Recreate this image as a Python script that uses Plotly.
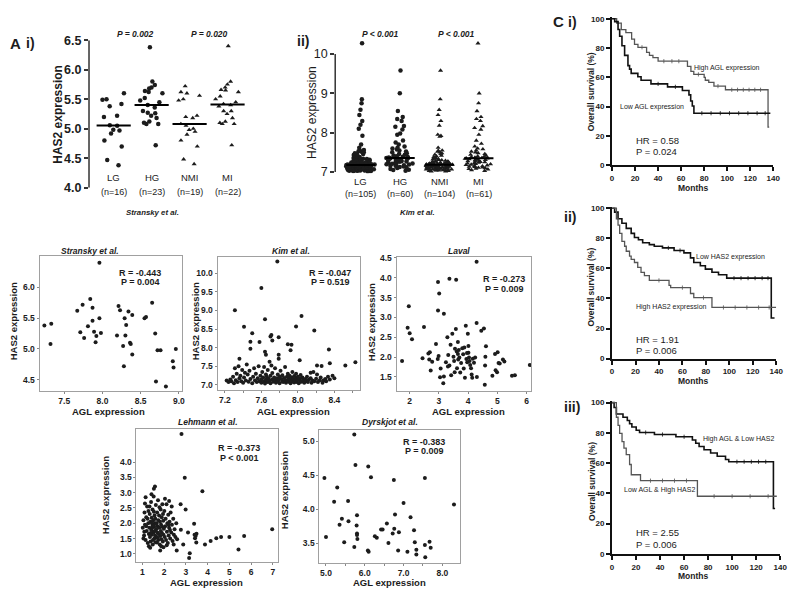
import plotly.graph_objects as go
import numpy as np

W, H = 800, 599
FONT = "Liberation Sans, Arial, Helvetica, sans-serif"
INK = "#1c1c1c"

# ======================= DATA =======================
groups = ["LG", "HG", "NMI", "MI"]
stransky_counts = ["(n=16)", "(n=23)", "(n=19)", "(n=22)"]
kim_counts = ["(n=105)", "(n=60)", "(n=104)", "(n=61)"]
stransky_pvals = ["P = 0.002", "P = 0.020"]
kim_pvals = ["P < 0.001", "P < 0.001"]

stransky_LG = [5.60, 5.50, 5.49, 5.42, 5.38, 5.22, 5.20, 5.06, 5.05, 4.98, 4.97, 4.92, 4.80, 4.70, 4.47, 4.38]
stransky_HG = [6.38, 5.80, 5.74, 5.70, 5.68, 5.64, 5.62, 5.60, 5.52, 5.48, 5.45, 5.40, 5.36, 5.30, 5.27,
               5.26, 5.22, 5.18, 5.12, 5.10, 5.08, 5.08, 4.72]
stransky_NMI = [5.72, 5.62, 5.60, 5.56, 5.50, 5.48, 5.22, 5.20, 5.18, 5.08, 5.05, 5.00, 4.98, 4.95, 4.90,
                4.80, 4.70, 4.48, 4.40]
stransky_MI = [6.40, 5.80, 5.75, 5.70, 5.66, 5.65, 5.62, 5.55, 5.50, 5.45, 5.42, 5.40, 5.38, 5.30, 5.30,
               5.25, 5.18, 5.12, 5.10, 5.08, 5.08, 4.72]

kim_LG = [10.27, 8.85, 8.75, 8.58, 8.45, 8.30, 8.20, 8.10, 7.92, 7.70, 7.62, 7.56, 7.55, 7.53, 7.52, 7.50,
          7.50, 7.48, 7.46, 7.45, 7.43, 7.42, 7.40, 7.39, 7.38, 7.36, 7.35, 7.34, 7.33, 7.32, 7.31, 7.30,
          7.29, 7.28, 7.28, 7.27, 7.26, 7.25, 7.25, 7.24, 7.23, 7.23, 7.22, 7.22, 7.21, 7.21, 7.20, 7.20,
          7.20, 7.19, 7.19, 7.19, 7.18, 7.18, 7.18, 7.17, 7.17, 7.17, 7.16, 7.16, 7.16, 7.15, 7.15, 7.15,
          7.14, 7.14, 7.14, 7.13, 7.13, 7.13, 7.12, 7.12, 7.12, 7.11, 7.11, 7.11, 7.10, 7.10, 7.10, 7.10,
          7.09, 7.09, 7.09, 7.08, 7.08, 7.08, 7.08, 7.07, 7.07, 7.07, 7.06, 7.06, 7.06, 7.05, 7.05, 7.05,
          7.04, 7.04, 7.04, 7.03, 7.03, 7.03, 7.02, 7.02, 7.01]
kim_HG = [9.58, 9.00, 8.55, 8.40, 8.35, 8.30, 8.17, 8.15, 8.08, 7.98, 7.95, 7.80, 7.75, 7.70, 7.65, 7.62,
          7.60, 7.57, 7.55, 7.52, 7.50, 7.48, 7.46, 7.44, 7.42, 7.40, 7.39, 7.38, 7.37, 7.36, 7.36, 7.35,
          7.34, 7.33, 7.32, 7.31, 7.30, 7.29, 7.28, 7.27, 7.26, 7.25, 7.24, 7.23, 7.22, 7.21, 7.20, 7.19,
          7.18, 7.17, 7.16, 7.15, 7.14, 7.13, 7.12, 7.10, 7.08, 7.06, 7.05, 7.03]
kim_NMI = [9.58, 8.85, 8.58, 8.45, 8.30, 8.18, 7.95, 7.92, 7.90, 7.62, 7.55, 7.54, 7.52, 7.50, 7.48, 7.46,
           7.44, 7.42, 7.40, 7.38, 7.36, 7.35, 7.34, 7.33, 7.32, 7.31, 7.30, 7.29, 7.28, 7.27, 7.26, 7.26,
           7.25, 7.25, 7.24, 7.24, 7.23, 7.23, 7.22, 7.22, 7.21, 7.21, 7.21, 7.20, 7.20, 7.20, 7.20, 7.19,
           7.19, 7.19, 7.19, 7.19, 7.18, 7.18, 7.18, 7.17, 7.17, 7.17, 7.16, 7.16, 7.16, 7.15, 7.15, 7.15,
           7.15, 7.14, 7.14, 7.14, 7.13, 7.13, 7.13, 7.12, 7.12, 7.12, 7.12, 7.11, 7.11, 7.11, 7.10, 7.10,
           7.10, 7.10, 7.09, 7.09, 7.09, 7.08, 7.08, 7.08, 7.07, 7.07, 7.07, 7.06, 7.06, 7.06, 7.05, 7.05,
           7.05, 7.04, 7.04, 7.04, 7.03, 7.03, 7.02, 7.02]
kim_MI = [10.27, 9.00, 8.75, 8.55, 8.40, 8.35, 8.30, 8.17, 8.12, 8.08, 7.95, 7.80, 7.72, 7.65, 7.60, 7.58,
          7.55, 7.52, 7.50, 7.48, 7.46, 7.44, 7.42, 7.40, 7.39, 7.38, 7.37, 7.36, 7.36, 7.35, 7.35, 7.34,
          7.33, 7.32, 7.31, 7.30, 7.29, 7.28, 7.27, 7.26, 7.25, 7.24, 7.23, 7.22, 7.21, 7.20, 7.19, 7.18,
          7.17, 7.16, 7.15, 7.14, 7.13, 7.12, 7.11, 7.10, 7.09, 7.08, 7.07, 7.05, 7.03]

# scatter panels: (AGL expression, HAS2 expression)
stransky_points = [
    (7.24, 5.38), (7.33, 5.41), (7.32, 5.08), (7.67, 5.62), (7.74, 5.72), (7.71, 5.27), (7.76, 5.18),
    (7.81, 5.37), (7.84, 5.81), (7.87, 5.67), (7.87, 5.46), (7.89, 5.28), (7.92, 5.21), (7.91, 5.11),
    (7.96, 5.50), (7.98, 5.26), (7.96, 6.40), (8.19, 5.22), (8.21, 5.70), (8.23, 5.63), (8.29, 5.50),
    (8.34, 5.61), (8.39, 5.55), (8.31, 5.39), (8.30, 5.22), (8.27, 5.05), (8.36, 5.10), (8.37, 5.08),
    (8.39, 4.91), (8.28, 4.72), (8.55, 5.50), (8.57, 5.52), (8.65, 5.75), (8.69, 5.25), (8.72, 4.98),
    (8.76, 4.98), (8.70, 4.47), (8.83, 4.39), (8.92, 4.80), (8.93, 4.70), (8.96, 5.00)]
kim_points = [
    (7.775, 10.31), (7.60, 9.60), (7.31, 9.00), (7.64, 8.76), (8.04, 8.85), (7.98, 8.57), (7.41, 8.56),
    (7.50, 8.39), (8.18, 8.46), (7.70, 8.30), (7.71, 8.34), (7.79, 8.28), (7.48, 8.16), (7.58, 8.15),
    (7.72, 8.19), (7.89, 8.09), (7.93, 8.08), (7.48, 7.97), (7.92, 7.93), (7.64, 7.89), (7.65, 7.81),
    (7.79, 7.81), (7.79, 7.70), (7.36, 7.70), (7.69, 7.62), (8.02, 7.66), (8.34, 7.95), (8.35, 7.58),
    (8.52, 7.52), (8.63, 7.61), (8.21, 7.52), (8.26, 7.51), (8.14, 7.33),
    (7.22, 7.12), (7.24, 7.08), (7.26, 7.15), (7.27, 7.10), (7.29, 7.22), (7.30, 7.05), (7.31, 7.45),
    (7.32, 7.13), (7.33, 7.30), (7.34, 7.08), (7.35, 7.50), (7.36, 7.18), (7.37, 7.25), (7.38, 7.10),
    (7.39, 7.40), (7.40, 7.06), (7.41, 7.20), (7.42, 7.33), (7.43, 7.12), (7.44, 7.55), (7.45, 7.28),
    (7.46, 7.09), (7.47, 7.38), (7.48, 7.16),
    (7.50, 7.05), (7.51, 7.22), (7.52, 7.45), (7.53, 7.12), (7.54, 7.30), (7.55, 7.08), (7.56, 7.18),
    (7.57, 7.50), (7.58, 7.10), (7.59, 7.25), (7.60, 7.06), (7.60, 7.15), (7.61, 7.35), (7.62, 7.20),
    (7.63, 7.10), (7.63, 7.48), (7.64, 7.04), (7.65, 7.28), (7.65, 7.14), (7.66, 7.22), (7.67, 7.08),
    (7.67, 7.40), (7.68, 7.17), (7.69, 7.12), (7.70, 7.25), (7.70, 7.05), (7.71, 7.52), (7.72, 7.15),
    (7.72, 7.32), (7.73, 7.09), (7.74, 7.20), (7.75, 7.12), (7.75, 7.45), (7.76, 7.06), (7.77, 7.18),
    (7.78, 7.28), (7.78, 7.10),
    (7.79, 7.14), (7.80, 7.22), (7.80, 7.05), (7.81, 7.38), (7.82, 7.16), (7.83, 7.10), (7.83, 7.26),
    (7.84, 7.08), (7.85, 7.19), (7.86, 7.13), (7.86, 7.48), (7.87, 7.06), (7.88, 7.22), (7.88, 7.12),
    (7.89, 7.30), (7.90, 7.09), (7.90, 7.17), (7.91, 7.25), (7.92, 7.05), (7.92, 7.14), (7.93, 7.20),
    (7.94, 7.10), (7.94, 7.35), (7.95, 7.16), (7.96, 7.07), (7.96, 7.24), (7.97, 7.12), (7.98, 7.18),
    (7.98, 7.30), (7.99, 7.08), (8.00, 7.14), (8.00, 7.22), (8.01, 7.05), (8.02, 7.17), (8.03, 7.11),
    (8.03, 7.27), (8.04, 7.09), (8.05, 7.20), (8.06, 7.13), (8.07, 7.06), (8.08, 7.16), (8.09, 7.10),
    (8.10, 7.22),
    (8.11, 7.08), (8.12, 7.14), (8.14, 7.18), (8.15, 7.06), (8.16, 7.12), (8.17, 7.35), (8.18, 7.10),
    (8.20, 7.17), (8.21, 7.28), (8.22, 7.08), (8.24, 7.13), (8.25, 7.20), (8.27, 7.06), (8.28, 7.12),
    (8.30, 7.16), (8.31, 7.10), (8.33, 7.22), (8.35, 7.15), (8.38, 7.25), (8.40, 7.18)]
laval_points = [
    (1.74, 1.90), (1.97, 3.28), (1.93, 2.74), (2.00, 2.60), (2.08, 2.45), (2.44, 1.97), (2.49, 2.76),
    (2.64, 2.09), (2.67, 1.94), (2.77, 1.88), (2.72, 1.66), (2.97, 3.89), (3.01, 3.60), (2.97, 3.17),
    (3.17, 3.09), (3.36, 3.97), (3.59, 3.95), (4.29, 4.40), (2.99, 2.03), (2.96, 1.95), (2.90, 2.33),
    (3.06, 1.71), (3.04, 1.49), (3.17, 1.51), (3.15, 1.34), (3.24, 1.87), (3.29, 2.50), (3.32, 2.05),
    (3.36, 1.79), (3.40, 2.31), (3.42, 1.54), (3.46, 2.59), (3.50, 2.01), (3.52, 1.90), (3.55, 2.21),
    (3.58, 2.71), (3.61, 2.14), (3.62, 1.72), (3.65, 2.08), (3.68, 2.18), (3.70, 1.99), (3.73, 1.61),
    (3.76, 1.85), (3.80, 2.22), (3.83, 2.07), (3.85, 1.71), (3.87, 2.24), (3.89, 1.48), (3.92, 2.79),
    (3.94, 1.95), (3.97, 1.87), (3.99, 2.59), (4.01, 2.11), (4.03, 1.99), (4.05, 1.90), (4.07, 1.80),
    (4.10, 1.72), (4.12, 1.56), (4.14, 1.48), (4.16, 1.96), (4.20, 1.86), (4.24, 1.99), (4.29, 2.86),
    (4.30, 1.50), (4.45, 2.66), (4.54, 2.72), (4.61, 2.27), (4.59, 2.01), (4.58, 1.79), (4.57, 1.30),
    (4.83, 1.53), (4.92, 2.08), (5.01, 2.12), (4.94, 1.67), (4.99, 1.62), (5.04, 1.85), (5.08, 1.84),
    (5.19, 1.94), (5.24, 1.89), (5.50, 1.53), (5.60, 1.54), (6.11, 1.80), (2.69, 2.12), (3.31, 1.76),
    (3.54, 1.62), (3.66, 1.94), (3.96, 2.10), (4.01, 2.28), (3.65, 2.38)]
lehmann_points = [
    (2.80, 4.92), (2.95, 3.49), (3.76, 3.05), (1.58, 3.20), (1.53, 3.13), (2.23, 2.73), (2.76, 2.62),
    (2.99, 2.45), (3.38, 1.98), (2.77, 1.79), (3.10, 1.70), (3.49, 1.66), (3.42, 1.51), (3.45, 1.58),
    (3.40, 1.62), (4.40, 1.51), (4.62, 1.55), (5.00, 1.55), (5.68, 1.58), (6.97, 1.80), (5.42, 1.14),
    (4.14, 1.42), (3.88, 1.30), (2.88, 1.30), (2.58, 1.11), (3.18, 1.02), (3.15, 0.86), (3.48, 1.37),
    (1.67, 1.37), (1.97, 1.21), (1.82, 1.11),
    (1.02, 1.85), (1.05, 2.10), (1.08, 1.60), (1.10, 2.35), (1.12, 1.95), (1.15, 1.45), (1.18, 2.20),
    (1.20, 1.75), (1.22, 2.55), (1.25, 1.35), (1.27, 2.00), (1.30, 1.65), (1.05, 1.50), (1.12, 2.65),
    (1.18, 1.90), (1.28, 2.40), (1.09, 1.72), (1.24, 2.15), (1.15, 2.85), (1.30, 1.25),
    (1.32, 1.85), (1.34, 2.30), (1.35, 1.55), (1.37, 2.05), (1.38, 1.40), (1.40, 2.70), (1.41, 1.78),
    (1.43, 2.18), (1.44, 1.62), (1.46, 1.95), (1.47, 2.45), (1.48, 1.30), (1.50, 2.10), (1.51, 1.70),
    (1.52, 2.88), (1.54, 1.88), (1.55, 1.50), (1.56, 2.25), (1.58, 2.00), (1.59, 1.60), (1.33, 2.55),
    (1.36, 1.20), (1.42, 2.95), (1.45, 1.85), (1.49, 1.45), (1.53, 2.38), (1.57, 1.75), (1.39, 1.68),
    (1.44, 2.02), (1.52, 1.92),
    (1.60, 2.15), (1.61, 1.38), (1.62, 2.60), (1.64, 1.80), (1.65, 2.00), (1.66, 1.55), (1.68, 2.35),
    (1.69, 1.70), (1.70, 1.90), (1.72, 2.75), (1.73, 1.45), (1.74, 2.10), (1.76, 1.65), (1.77, 2.25),
    (1.78, 1.85), (1.80, 1.30), (1.81, 2.05), (1.82, 1.58), (1.84, 2.45), (1.85, 1.75), (1.86, 1.95),
    (1.88, 1.48), (1.89, 2.20), (1.90, 1.68), (1.92, 2.62), (1.93, 1.88), (1.94, 1.40), (1.96, 2.08),
    (1.97, 1.62), (1.99, 1.82), (1.63, 1.98), (1.71, 1.52), (1.79, 2.52), (1.87, 1.25), (1.95, 2.30),
    (2.01, 2.40), (2.03, 1.55), (2.05, 1.90), (2.07, 2.15), (2.09, 1.45), (2.11, 2.62), (2.13, 1.72),
    (2.15, 2.00), (2.17, 1.35), (2.19, 2.28), (2.21, 1.60), (2.23, 1.85), (2.25, 2.05), (2.28, 1.50),
    (2.30, 2.35), (2.33, 1.70), (2.36, 1.95), (2.39, 1.42), (2.42, 2.15), (2.45, 1.62), (2.48, 1.80),
    (2.52, 1.55), (2.56, 2.00), (2.60, 1.48), (2.04, 2.80), (2.12, 1.28), (2.20, 1.95), (2.27, 1.78),
    (2.35, 2.55), (2.44, 1.30)]
dyrskjot_points = [
    (4.96, 4.46), (5.00, 3.59), (5.21, 4.11), (5.29, 4.32), (5.35, 3.77), (5.41, 3.86), (5.47, 3.51),
    (5.57, 4.12), (5.58, 3.82), (5.73, 3.44), (5.73, 5.10), (5.76, 4.65), (5.80, 3.91), (5.79, 3.76),
    (5.80, 3.64), (5.80, 3.62), (5.81, 3.56), (6.09, 4.63), (6.16, 4.47), (6.08, 3.39), (6.26, 3.60),
    (6.31, 3.58), (6.42, 3.70), (6.46, 3.70), (6.57, 3.79), (6.61, 3.50), (6.72, 3.64), (6.75, 4.43),
    (6.78, 3.92), (6.88, 3.66), (7.00, 4.09), (7.55, 4.46), (8.30, 4.07), (7.18, 3.88), (6.76, 3.71),
    (7.27, 3.69), (7.29, 3.51), (7.55, 3.47), (7.67, 3.52), (7.70, 3.43), (6.10, 3.37), (6.86, 3.39),
    (7.10, 3.37), (7.33, 3.40), (7.33, 3.33), (7.56, 3.29)]

scatter_titles = ["Stransky et al.", "Kim et al.", "Laval", "Lehmann et al.", "Dyrskjot et al."]
scatter_stats = [("R = -0.443", "P = 0.004"), ("R = -0.047", "P = 0.519"), ("R = -0.273", "P = 0.009"),
                 ("R = -0.373", "P < 0.001"), ("R = -0.383", "P = 0.009")]

# Kaplan-Meier curves (months, % surviving after each step) and censoring times
ci_high_t = [0, 4, 8, 12, 17, 19.5, 22.5, 30, 32.5, 35.5, 40, 65.5, 68.5, 71, 80, 81, 84, 88.5, 98.5, 135.5, 136.5]
ci_high_s = [100, 97, 92.5, 90.5, 86, 82.5, 80.5, 77, 75, 73.5, 71, 67.5, 64, 62, 60, 58, 56.5, 54, 51.5, 26, 26]
ci_high_cens = [26, 45, 52, 58, 75, 92, 104, 109, 114, 119, 124, 129]
ci_low_t = [0, 2.3, 5.2, 6.6, 8.6, 10.9, 13.8, 15.2, 16.6, 22.4, 25.2, 33.8, 48.2, 61.1, 66.8, 68.3, 69.7, 71.1, 137.5]
ci_low_s = [100, 98, 92.6, 88, 81.5, 75, 68, 65.6, 62.7, 60.4, 58, 55.5, 53.5, 51, 48, 43.8, 40.4, 35.5, 35.5]
ci_low_cens = [40, 55, 78, 86, 94, 102, 110, 118, 126, 133]
cii_low_t = [0, 2.2, 5.1, 8.4, 12.1, 16.3, 19.1, 22.5, 26.1, 31.8, 36, 43, 52.9, 61.3, 66.9, 69.7, 75.3, 79.6,
             85.2, 90.8, 97.8, 135.8, 138.6]
cii_low_s = [100, 97.4, 93, 90, 86.6, 83.3, 80.5, 79, 77, 75.8, 74.7, 73.6, 71.9, 70.3, 67, 63.9, 61.7, 59.5,
             57.4, 55.8, 53.5, 27, 27]
cii_low_cens = [48, 58, 104, 110, 116, 122, 128, 133]
cii_high_t = [0, 3.7, 5.1, 6.5, 8.4, 10.7, 12.1, 14.9, 16.3, 19.1, 21.9, 24.7, 27.6, 31.8, 48.6, 50, 66.9, 69.7, 85.2, 140]
cii_high_s = [100, 93, 88.7, 83.3, 78, 74.7, 71.4, 68.2, 66, 63.9, 60.6, 57.4, 55.2, 52, 48.7, 47.2, 43.3, 40.5, 34, 34]
cii_high_cens = [40, 60, 78, 95, 105, 115, 125, 134]
ciii_good_t = [0, 1.7, 3.6, 9.1, 12.7, 14.6, 16.5, 20.1, 22.9, 35.3, 53.2, 66.9, 69.7, 72.5, 76.6, 82.1, 87.6,
               94.5, 97.2, 134.4, 135.8]
ciii_good_s = [100, 96.8, 92.5, 90.3, 88.2, 86, 83.9, 81.7, 80.2, 78.9, 77.4, 75.3, 73.1, 71, 68.8, 66.7, 64.5,
               62.4, 60.9, 30, 30]
ciii_good_cens = [28, 42, 60, 104, 110, 116, 122, 128]
ciii_poor_t = [0, 3.6, 5, 6.3, 8.3, 9.9, 11.8, 14.6, 16, 23.7, 71.1, 137.2]
ciii_poor_s = [100, 90.3, 84.9, 79.6, 74.2, 69.9, 65.6, 59.1, 52.3, 48.4, 38.1, 38.1]
ciii_poor_cens = [32, 42, 52, 62, 85, 100, 115, 130]

surv_labels = [("High AGL expression", "Low AGL expression"), ("Low HAS2 expression", "High HAS2 expression"),
               ("High AGL & Low HAS2", "Low AGL & High HAS2")]
surv_stats = [("HR = 0.58", "P = 0.024"), ("HR = 1.91", "P = 0.006"), ("HR = 2.55", "P = 0.006")]

# ======================= LAYOUT HELPERS =======================
def dx(a, b):
    return [a / W, b / W]

def dy(top, bottom):
    return [1 - bottom / H, 1 - top / H]

def px(x):
    return x / W

def py(y):
    return 1 - y / H

def names(n):
    s = "" if n == 1 else str(n)
    return "x" + s, "y" + s, "xaxis" + s, "yaxis" + s

fig = go.Figure()
layout = {}
ann = []

def text(x, y, t, size, bold=False, italic=False, xanchor="center", angle=0, xref="paper", yref="paper", color=INK):
    ann.append(dict(x=x, y=y, xref=xref, yref=yref, text=t, showarrow=False, xanchor=xanchor,
                    yanchor="middle", textangle=angle, borderpad=0,
                    font=dict(family=FONT, size=size, color=color,
                              weight="bold" if bold else "normal",
                              style="italic" if italic else "normal")))

# ---------------- strip panels (A i, A ii) ----------------
def strip_panel(n, series, xdom, ydom, yr, ytick, tickbold, tickfmt, half, width, axis_top):
    xr_, yr_, xk, yk = names(n)
    symbols = ["circle", "circle", "triangle-up", "triangle-up"]
    for i, vals in enumerate(series):
        fig.add_trace(go.Box(y=vals, x0=i, width=width, boxpoints="all", jitter=1.0, pointpos=0,
                             fillcolor="rgba(0,0,0,0)", line=dict(width=0, color="rgba(0,0,0,0)"),
                             marker=dict(symbol=symbols[i], size=4.5, color=INK),
                             xaxis=xr_, yaxis=yr_, showlegend=False, hoverinfo="skip"))
        med = float(np.median(vals))
        fig.add_trace(go.Scatter(x=[i - half, i + half], y=[med, med], mode="lines",
                                 line=dict(color="#000", width=2), xaxis=xr_, yaxis=yr_,
                                 showlegend=False, hoverinfo="skip"))
    layout[xk] = dict(domain=xdom, range=[-0.65, 3.57], visible=False, anchor=yr_)
    layout[yk] = dict(domain=ydom, range=yr, anchor=xr_, showline=False, ticks="outside", ticklen=4,
                      tickwidth=1.5, tickcolor="#333", tickvals=ytick, tickformat=tickfmt,
                      showgrid=False, zeroline=False,
                      tickfont=dict(family=FONT, size=12.5, color=INK,
                                    weight="bold" if tickbold else "normal"))
    fig.add_shape(type="line", xref=xr_ + " domain", yref=yr_, x0=0, x1=0, y0=ytick[0], y1=axis_top,
                  line=dict(color="#333", width=1.5))

strip_panel(1, [stransky_LG, stransky_HG, stransky_NMI, stransky_MI], dx(88, 250), dy(34, 185),
            [4.0, 6.5], [4.0, 4.5, 5.0, 5.5, 6.0, 6.5], True, ".1f", 0.45, 0.7, 6.5)
strip_panel(2, [kim_LG, kim_HG, kim_NMI, kim_MI], dx(337, 505), dy(34, 170.2),
            [6.97, 10.35], [7, 8, 9, 10], False, "d", 0.37, 0.75, 10)

for i, (g, c) in enumerate(zip(groups, stransky_counts)):
    text(i, py(175), g, 9.5, xref="x")
    text(i, py(189), c, 9, xref="x")
for i, (g, c) in enumerate(zip(groups, kim_counts)):
    text(i, py(179), g, 9.5, xref="x2")
    text(i, py(191), c, 9, xref="x2")
text(px(135), py(28), stransky_pvals[0], 8.5, bold=True, italic=True)
text(px(210), py(28), stransky_pvals[1], 8.5, bold=True, italic=True)
text(px(383), py(28), kim_pvals[0], 8.5, bold=True, italic=True)
text(px(460), py(28), kim_pvals[1], 8.5, bold=True, italic=True)
text(px(152), py(210), "Stransky et al.", 7.8, bold=True, italic=True)
text(px(420), py(210), "Kim et al.", 7.8, bold=True, italic=True)
text(px(57), py(110), "HAS2 expression", 12, bold=True, angle=-90)
text(px(314), py(108), "HAS2 expression", 12, angle=-90)
text(px(7), py(37), "A", 15, bold=True, xanchor="left")
text(px(23), py(37), "i)", 14, bold=True, xanchor="left")
text(px(297), py(35), "ii)", 14, bold=True, xanchor="left")

# ---------------- correlation scatter panels ----------------
def scatter_panel(n, pts, xdom, ydom, xr, yr, xt, yt, xfmt, yfmt, xminor=None):
    xr_, yr_, xk, yk = names(n)
    xs = [p[0] for p in pts]
    ys = [p[1] for p in pts]
    fig.add_trace(go.Scatter(x=xs, y=ys, mode="markers", marker=dict(size=4, color=INK),
                             xaxis=xr_, yaxis=yr_, showlegend=False, hoverinfo="skip"))
    common = dict(showline=True, mirror=True, linecolor="#a0a0a0", linewidth=1, ticks="outside",
                  ticklen=2, tickcolor="#888", tickwidth=1, showgrid=False, zeroline=False,
                  tickfont=dict(family=FONT, size=8.5, color=INK, weight="bold"))
    layout[xk] = dict(domain=xdom, range=xr, tickvals=xt, tickformat=xfmt, anchor=yr_, **common)
    if xminor:
        layout[xk]["minor"] = dict(tickvals=xminor, ticks="outside", ticklen=2, tickcolor="#888")
    layout[yk] = dict(domain=ydom, range=yr, tickvals=yt, tickformat=yfmt, anchor=xr_, **common)

scatter_panel(3, stransky_points, dx(38, 182), dy(255, 393), [7.177, 9.04], [4.32, 6.51],
              [7.5, 8.0, 8.5, 9.0], [4.5, 5.0, 5.5, 6.0], ".1f", ".1f")
scatter_panel(4, kim_points, dx(218, 362), dy(256, 392), [7.12, 8.68], [6.87, 10.43],
              [7.2, 7.6, 8.0, 8.4], [7.0, 7.5, 8.0, 8.5, 9.0, 9.5, 10.0], ".1f", ".1f", [7.4, 7.8, 8.2, 8.6])
scatter_panel(5, laval_points, dx(399, 535), dy(256, 393), [1.55, 6.15], [1.15, 4.52],
              [2, 3, 4, 5, 6], [1.5, 2.0, 2.5, 3.0, 3.5, 4.0, 4.5], "d", ".1f")
scatter_panel(6, lehmann_points, dx(136, 279), dy(432, 568), [0.73, 7.23], [0.74, 5.09],
              [1, 2, 3, 4, 5, 6, 7], [1.0, 1.5, 2.0, 2.5, 3.0, 3.5, 4.0], "d", ".1f")
scatter_panel(7, dyrskjot_points, dx(321, 463), dy(433, 569), [4.83, 8.45], [3.21, 5.17],
              [5.0, 6.0, 7.0, 8.0], [3.5, 4.0, 4.5, 5.0], ".1f", ".1f", [5.5, 6.5, 7.5])

title_pos = [(89, 250), (292, 250), (462, 250), (208, 425), (392, 425)]
stat_pos = [(140, 272, 282), (332, 272, 282), (508, 279, 289), (240, 452, 462), (427, 445, 455)]
xtitle_pos = [(108, 414), (295, 414), (472, 414.5), (207, 589), (392, 589)]
ytitle_pos = [(12, 322), (196, 322), (374, 323), (104, 500), (286, 495)]
for k in range(5):
    text(px(title_pos[k][0]), py(title_pos[k][1]), scatter_titles[k], 8.5, bold=True, italic=True)
    text(px(stat_pos[k][0]), py(stat_pos[k][1]), scatter_stats[k][0], 9, bold=True)
    text(px(stat_pos[k][0]), py(stat_pos[k][2]), scatter_stats[k][1], 9, bold=True)
    text(px(xtitle_pos[k][0]), py(xtitle_pos[k][1]), "AGL expression", 9.5, bold=True)
    text(px(ytitle_pos[k][0]), py(ytitle_pos[k][1]), "HAS2 expression", 9.5, bold=True, angle=-90)

# ---------------- survival panels ----------------
def surv_panel(n, curves, xdom, ydom):
    xr_, yr_, xk, yk = names(n)
    for t, s, cens, col, w in curves:
        fig.add_trace(go.Scatter(x=t, y=s, mode="lines", line=dict(shape="hv", color=col, width=w),
                                 xaxis=xr_, yaxis=yr_, showlegend=False, hoverinfo="skip"))
        # censor marks sit on the step curve at the censoring times
        idx = np.searchsorted(np.array(t), np.array(cens), side="right") - 1
        cy = [s[i] for i in idx]
        fig.add_trace(go.Scatter(x=cens, y=cy, mode="markers",
                                 marker=dict(symbol="line-ns", size=3, line=dict(width=0.8, color=col)),
                                 xaxis=xr_, yaxis=yr_, showlegend=False, hoverinfo="skip"))
    common = dict(showline=True, linecolor="#111", linewidth=2, ticks="outside", ticklen=4,
                  tickwidth=1.5, tickcolor="#111", showgrid=False, zeroline=False,
                  tickfont=dict(family=FONT, size=8, color=INK, weight="bold"))
    layout[xk] = dict(domain=xdom, range=[0, 140], tickvals=list(range(0, 141, 20)), anchor=yr_, **common)
    layout[yk] = dict(domain=ydom, range=[0, 101], tickvals=list(range(0, 101, 20)), anchor=xr_, **common)

surv_panel(8, [(ci_high_t, ci_high_s, ci_high_cens, "#555", 1.3), (ci_low_t, ci_low_s, ci_low_cens, "#111", 1.6)],
           dx(617, 780), dy(10.5, 162))
surv_panel(9, [(cii_low_t, cii_low_s, cii_low_cens, "#111", 1.6), (cii_high_t, cii_high_s, cii_high_cens, "#555", 1.3)],
           dx(617, 783), dy(204.5, 360))
surv_panel(10, [(ciii_good_t, ciii_good_s, ciii_good_cens, "#111", 1.6),
                (ciii_poor_t, ciii_poor_s, ciii_poor_cens, "#555", 1.3)],
           dx(617, 787), dy(403.5, 560))

lab_pos = [((733, 62), (657, 102)), ((737, 256), (677, 307)), ((745, 442), (665, 495))]
hr_pos = [(137, 148), (340, 352), (538, 550)]
months_y = [185, 383, 583]
ytit_y = [87, 287, 486]
for k in range(3):
    (a, b) = lab_pos[k]
    text(px(a[0]), py(a[1]), surv_labels[k][0], 7)
    text(px(b[0]), py(b[1]), surv_labels[k][1], 7)
    text(px(640), py(hr_pos[k][0]), surv_stats[k][0], 9.5, xanchor="left")
    text(px(640), py(hr_pos[k][1]), surv_stats[k][1], 9.5, xanchor="left")
    text(px(699), py(months_y[k]), "Months", 8.5, bold=True)
    text(px(596), py(ytit_y[k]), "Overall survival (%)", 8.5, bold=True, angle=-90)

text(px(556), py(15), "C", 15, bold=True, xanchor="left")
text(px(571), py(15), "i)", 14, bold=True, xanchor="left")
text(px(567), py(215), "ii)", 14, bold=True, xanchor="left")
text(px(567), py(410), "iii)", 14, bold=True, xanchor="left")

fig.update_layout(width=W, height=H, margin=dict(l=0, r=0, t=0, b=0), paper_bgcolor="white",
                  plot_bgcolor="white", font=dict(family=FONT, color=INK), annotations=ann,
                  boxmode="overlay", **layout)
fig.write_html("out.html", config={"displayModeBar": False},
               post_script="document.body.style.margin='0px';document.body.style.overflow='hidden';")
